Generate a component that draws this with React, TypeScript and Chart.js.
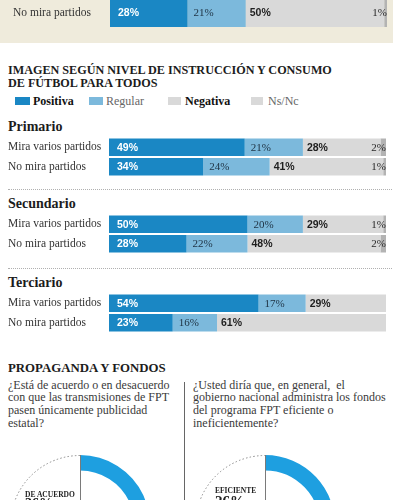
import React, { useEffect, useRef } from "react";
import { Chart, registerables } from "chart.js";
Chart.register(...registerables);

// ---------- data ----------
const seriesNames = ["Positiva", "Regular", "Negativa", "Ns/Nc"];
const rowLabels = ["Mira varios partidos", "No mira partidos"];
const topRowLabels = ["No mira partidos"];
const levelNames = ["Primario", "Secundario", "Terciario"];

const topPositiva = [28];
const topRegular = [21];
const topNegativa = [50];
const topNsNc = [1];

const primarioPositiva = [49, 34];
const primarioRegular = [21, 24];
const primarioNegativa = [28, 41];
const primarioNsNc = [2, 1];

const secundarioPositiva = [50, 28];
const secundarioRegular = [20, 22];
const secundarioNegativa = [29, 48];
const secundarioNsNc = [1, 2];

const terciarioPositiva = [54, 23];
const terciarioRegular = [17, 16];
const terciarioNegativa = [29, 61];
const terciarioNsNc = [0, 0];

const gaugeLabels = ["DE ACUERDO", "EFICIENTE"];
const acuerdoValues = [36, 64];
const eficienteValues = [26, 74];

// ---------- styles ----------
const SERIF = "'Liberation Serif', 'DejaVu Serif', serif";
const SANS = "'Liberation Sans', Arial, sans-serif";
const barColors = ["#1a87c4", "#7cb9dc", "#d9d9d9", "#b3b3b3"];
const legendColors = ["#1a87c4", "#7cb9dc", "#d9d9d9", "#d9d9d9"];
const labelColors = ["#ffffff", "#203546", "#1e1e1e", "#2a2a2a"];
const labelFonts = [
  `bold 10.5px ${SANS}`,
  `11px ${SERIF}`,
  `bold 10.5px ${SANS}`,
  `11px ${SERIF}`,
];
const labelOffsets = [8, 6, 4, 0];
const BLUE = "#1e9fe0";

const valueLabelPlugin = {
  id: "valueLabels",
  afterDatasetsDraw(chart: any) {
    const ctx = chart.ctx;
    chart.data.datasets.forEach((ds: any, i: number) => {
      const meta = chart.getDatasetMeta(i);
      meta.data.forEach((el: any, j: number) => {
        const v = ds.data[j];
        if (!v) return;
        const p = el.getProps(["x", "y", "base"], true);
        ctx.save();
        ctx.font = labelFonts[i];
        ctx.fillStyle = labelColors[i];
        ctx.textBaseline = "middle";
        if (i === 3) {
          ctx.textAlign = "right";
          ctx.fillText(v + "%", chart.chartArea.right, p.y + 0.5);
        } else {
          ctx.textAlign = "left";
          ctx.fillText(v + "%", Math.min(p.base, p.x) + labelOffsets[i], p.y + 0.5);
        }
        ctx.restore();
      });
    });
  },
};

function StackedBars(props: {
  labels: string[];
  values: number[][];
  width: number;
  height: number;
  left: number;
  top: number;
  padLeft: number;
  axisWidth: number;
  barPct: number;
}) {
  const ref = useRef<HTMLCanvasElement>(null);
  useEffect(() => {
    const chart = new Chart(ref.current as HTMLCanvasElement, {
      type: "bar",
      data: {
        labels: props.labels,
        datasets: props.values.map((v, i) => ({
          label: seriesNames[i],
          data: v,
          backgroundColor: barColors[i],
          borderWidth: 0,
          barPercentage: props.barPct,
          categoryPercentage: 1,
        })),
      },
      options: {
        indexAxis: "y",
        responsive: false,
        animation: false,
        layout: { padding: { left: props.padLeft, right: 0, top: 0, bottom: 0 } },
        plugins: { legend: { display: false }, tooltip: { enabled: false } },
        scales: {
          x: { stacked: true, min: 0, max: 100, display: false },
          y: {
            stacked: true,
            grid: { display: false },
            border: { display: false },
            ticks: {
              crossAlign: "far",
              color: "#333",
              padding: 0,
              font: { family: SERIF, size: 11.5, lineHeight: 0.1 },
            },
            afterFit: (s: any) => {
              s.width = props.axisWidth;
            },
          },
        },
      } as any,
      plugins: [valueLabelPlugin],
    });
    return () => chart.destroy();
  }, []);
  return (
    <canvas
      ref={ref}
      width={props.width}
      height={props.height}
      style={{ position: "absolute", left: props.left, top: props.top, width: props.width, height: props.height }}
    />
  );
}

const gaugeDecor = {
  id: "gaugeDecor",
  afterDatasetsDraw(chart: any) {
    const ctx = chart.ctx;
    const meta = chart.getDatasetMeta(0);
    const rest = meta.data[1];
    const first = meta.data[0];
    const r = rest.outerRadius;
    ctx.save();
    ctx.strokeStyle = "#8a8a8a";
    ctx.lineWidth = 1;
    ctx.setLineDash([1.5, 2.2]);
    ctx.beginPath();
    ctx.arc(rest.x, rest.y, r - 0.5, rest.startAngle, rest.endAngle);
    ctx.stroke();
    ctx.setLineDash([]);
    ctx.strokeStyle = "#7a7a7a";
    ctx.beginPath();
    const a = first.startAngle;
    ctx.moveTo(first.x + Math.cos(a) * r + 0.5, first.y + Math.sin(a) * r);
    ctx.lineTo(first.x + 0.5, first.y);
    ctx.stroke();
    ctx.restore();
  },
};

function Gauge(props: { values: number[]; left: number; top: number }) {
  const ref = useRef<HTMLCanvasElement>(null);
  useEffect(() => {
    const chart = new Chart(ref.current as HTMLCanvasElement, {
      type: "doughnut",
      data: {
        labels: ["valor", "resto"],
        datasets: [
          {
            data: props.values,
            backgroundColor: [BLUE, "rgba(0,0,0,0)"],
            borderWidth: 0,
          },
        ],
      },
      options: {
        responsive: false,
        animation: false,
        cutout: "78%",
        layout: { padding: 5 },
        plugins: { legend: { display: false }, tooltip: { enabled: false } },
      } as any,
      plugins: [gaugeDecor],
    });
    return () => chart.destroy();
  }, []);
  return (
    <canvas
      ref={ref}
      width={150}
      height={150}
      style={{ position: "absolute", left: props.left, top: props.top, width: 150, height: 150 }}
    />
  );
}

const abs = (left: number, top: number, extra: any = {}) => ({ position: "absolute" as const, left, top, ...extra });

export default function App() {
  const legendPos = [
    { sw: 15, sww: 15, tx: 33, bold: true, color: "#111" },
    { sw: 89, sww: 14, tx: 106, bold: false, color: "#666" },
    { sw: 168, sww: 13, tx: 185, bold: true, color: "#111" },
    { sw: 251, sww: 12, tx: 268, bold: false, color: "#666" },
  ];
  const sectionTops = [137, 214, 293];
  const headerTops = [119, 196, 275];
  const sectionValues = [
    [primarioPositiva, primarioRegular, primarioNegativa, primarioNsNc],
    [secundarioPositiva, secundarioRegular, secundarioNegativa, secundarioNsNc],
    [terciarioPositiva, terciarioRegular, terciarioNegativa, terciarioNsNc],
  ];
  return (
    <div
      style={{
        position: "fixed",
        left: 0,
        top: 0,
        width: 400,
        height: 500,
        overflow: "hidden",
        background: "#fff",
        fontFamily: SERIF,
        color: "#222",
      }}
    >
      <div style={abs(0, 0, { width: 393, height: 43, background: "#efebdc" })} />
      <StackedBars
        labels={topRowLabels}
        values={[topPositiva, topRegular, topNegativa, topNsNc]}
        width={387}
        height={32}
        left={0}
        top={-3}
        padLeft={13}
        axisWidth={97}
        barPct={0.9}
      />

      <div
        style={abs(8, 63, {
          fontSize: 13.5,
          fontWeight: "bold",
          lineHeight: "13px",
          whiteSpace: "nowrap",
          transform: "scaleX(0.9)",
          transformOrigin: "left top",
          color: "#1c1c1c",
        })}
      >
        IMAGEN SEGÚN NIVEL DE INSTRUCCIÓN Y CONSUMO
        <br />
        DE FÚTBOL PARA TODOS
      </div>

      {seriesNames.map((n, i) => (
        <React.Fragment key={n}>
          <div style={abs(legendPos[i].sw, 97, { width: legendPos[i].sww, height: 8, background: legendColors[i] })} />
          <div
            style={abs(legendPos[i].tx, 94, {
              fontSize: 12,
              lineHeight: "14px",
              fontWeight: legendPos[i].bold ? "bold" : "normal",
              color: legendPos[i].color,
              whiteSpace: "nowrap",
            })}
          >
            {n}
          </div>
        </React.Fragment>
      ))}

      {levelNames.map((n, k) => (
        <React.Fragment key={n}>
          <div
            style={abs(8, headerTops[k], {
              fontSize: 14,
              lineHeight: "16px",
              fontWeight: "bold",
              color: "#1c1c1c",
            })}
          >
            {n}
          </div>
          <StackedBars
            labels={rowLabels}
            values={sectionValues[k]}
            width={386}
            height={40}
            left={0}
            top={sectionTops[k]}
            padLeft={8}
            axisWidth={101}
            barPct={0.9}
          />
        </React.Fragment>
      ))}
      <div style={abs(8, 189, { width: 384, height: 0, borderTop: "1px dotted #b0b0b0" })} />
      <div style={abs(8, 268, { width: 384, height: 0, borderTop: "1px dotted #b0b0b0" })} />

      <div
        style={abs(8, 361, {
          fontSize: 13.5,
          fontWeight: "bold",
          lineHeight: "14px",
          whiteSpace: "nowrap",
          transform: "scaleX(0.95)",
          transformOrigin: "left top",
          color: "#1c1c1c",
        })}
      >
        PROPAGANDA Y FONDOS
      </div>
      <div style={abs(8, 378.5, { fontSize: 12, lineHeight: "12.7px", color: "#3a3a3a", whiteSpace: "nowrap" })}>
        ¿Está de acuerdo o en desacuerdo
        <br />
        con que las transmisiones de FPT
        <br />
        pasen únicamente publicidad
        <br />
        estatal?
      </div>
      <div style={abs(193, 378.5, { fontSize: 12, lineHeight: "12.7px", color: "#3a3a3a", whiteSpace: "nowrap" })}>
        ¿Usted diría que, en general,&nbsp; el
        <br />
        gobierno nacional administra los fondos
        <br />
        del programa FPT eficiente o
        <br />
        ineficientemente?
      </div>
      <div style={abs(184, 382, { width: 1, height: 118, background: "#666" })} />

      <Gauge values={acuerdoValues} left={5} top={450} />
      <Gauge values={eficienteValues} left={190} top={450} />
      <div style={abs(25, 490, { fontSize: 7.5, fontWeight: "bold", lineHeight: "9px", whiteSpace: "nowrap" })}>
        {gaugeLabels[0]}
      </div>
      <div style={abs(25, 497, { fontSize: 14, fontWeight: "bold", lineHeight: "14px" })}>{acuerdoValues[0]}%</div>
      <div style={abs(215, 486, { fontSize: 7.5, fontWeight: "bold", lineHeight: "9px", whiteSpace: "nowrap" })}>
        {gaugeLabels[1]}
      </div>
      <div style={abs(215, 494, { fontSize: 15, fontWeight: "bold", lineHeight: "15px" })}>{eficienteValues[0]}%</div>
    </div>
  );
}
